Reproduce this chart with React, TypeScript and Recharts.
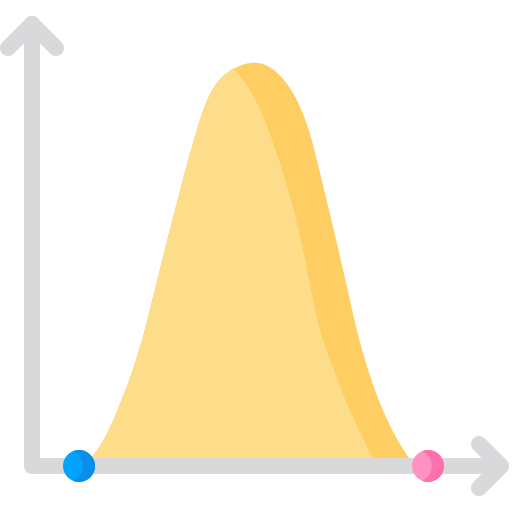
import { ComposedChart, Area, Line, Scatter, XAxis, YAxis } from 'recharts';

// bell curve, x position and height above the base line
const outerX = [84, 92, 103, 118, 137, 150, 162, 175, 188, 200, 210, 220, 233, 252, 270, 287, 300, 310, 317, 329, 341, 351, 358, 367, 378, 393, 408, 415];
const outerH = [0, 9, 23, 56, 106, 156, 206, 256, 306, 348, 374, 388, 398, 405, 401, 384, 361, 334, 306, 256, 206, 161, 130, 99, 66, 33, 9, 0];

// lighter front part of the curve
const innerX = [84, 92, 103, 118, 137, 150, 162, 175, 188, 200, 210, 220, 233, 233, 250, 263, 273, 281, 289, 297, 305, 314, 322, 333, 345, 360, 372, 378];
const innerH = [0, 9, 23, 56, 106, 156, 206, 256, 306, 348, 374, 388, 398, 398, 378, 351, 324, 300, 274, 244, 208, 160, 127, 99, 66, 33, 9, 0];

// the two arrows
const axisX = [32, 32, 501];
const axisY = [442, 0, 0];
const upHeadX = [8, 32, 56];
const upHeadY = [418, 442, 418];
const rightHeadX = [479, 501, 479];
const rightHeadY = [22, 0, -22];

// end points on the base line
const startDot = [{ x: 79, y: 0 }];
const endDot = [{ x: 428, y: 0 }];

const zip = (xs: number[], ys: number[], key: string) =>
  xs.map((x, i) => ({ x, [key]: ys[i] }));

const outerData = zip(outerX, outerH, 'h');
const innerData = zip(innerX, innerH, 'h');
const axisData = zip(axisX, axisY, 'v');
const upHeadData = zip(upHeadX, upHeadY, 'v');
const rightHeadData = zip(rightHeadX, rightHeadY, 'v');

const GREY = '#d9d9dc';

function makeDot(light: string, dark: string) {
  return (props: any) => {
    const { cx, cy } = props;
    const r = 16;
    const ix = cx - 6;
    const iy = 14.8;
    const crescent = `M ${ix} ${cy - iy} A ${r} ${r} 0 1 1 ${ix} ${cy + iy} A ${r} ${r} 0 0 0 ${ix} ${cy - iy} Z`;
    return (
      <g>
        <circle cx={cx} cy={cy} r={r} fill={light} />
        <path d={crescent} fill={dark} />
      </g>
    );
  };
}

export default function App() {
  return (
    <div style={{ position: 'fixed', left: 0, top: 0, width: 512, height: 512, background: '#fff' }}>
      <ComposedChart width={512} height={512} margin={{ top: 0, right: 0, bottom: 0, left: 0 }}>
        <XAxis type="number" dataKey="x" domain={[0, 512]} hide allowDataOverflow />
        <YAxis type="number" domain={[-46, 466]} hide allowDataOverflow />
        <Area
          data={outerData}
          dataKey="h"
          type="basis"
          baseValue={0}
          fill="#fece62"
          fillOpacity={1}
          stroke="none"
          isAnimationActive={false}
        />
        <Area
          data={innerData}
          dataKey="h"
          type="basis"
          baseValue={0}
          fill="#fddc8a"
          fillOpacity={1}
          stroke="none"
          isAnimationActive={false}
        />
        {[axisData, upHeadData, rightHeadData].map((d, i) => (
          <Line
            key={i}
            data={d}
            dataKey="v"
            type="linear"
            stroke={GREY}
            strokeWidth={16}
            strokeLinecap="round"
            strokeLinejoin="round"
            dot={false}
            activeDot={false}
            isAnimationActive={false}
          />
        ))}
        <Scatter data={startDot} dataKey="y" shape={makeDot('#02a3fe', '#0b8eea')} isAnimationActive={false} />
        <Scatter data={endDot} dataKey="y" shape={makeDot('#ff92c1', '#ff6fae')} isAnimationActive={false} />
      </ComposedChart>
    </div>
  );
}
